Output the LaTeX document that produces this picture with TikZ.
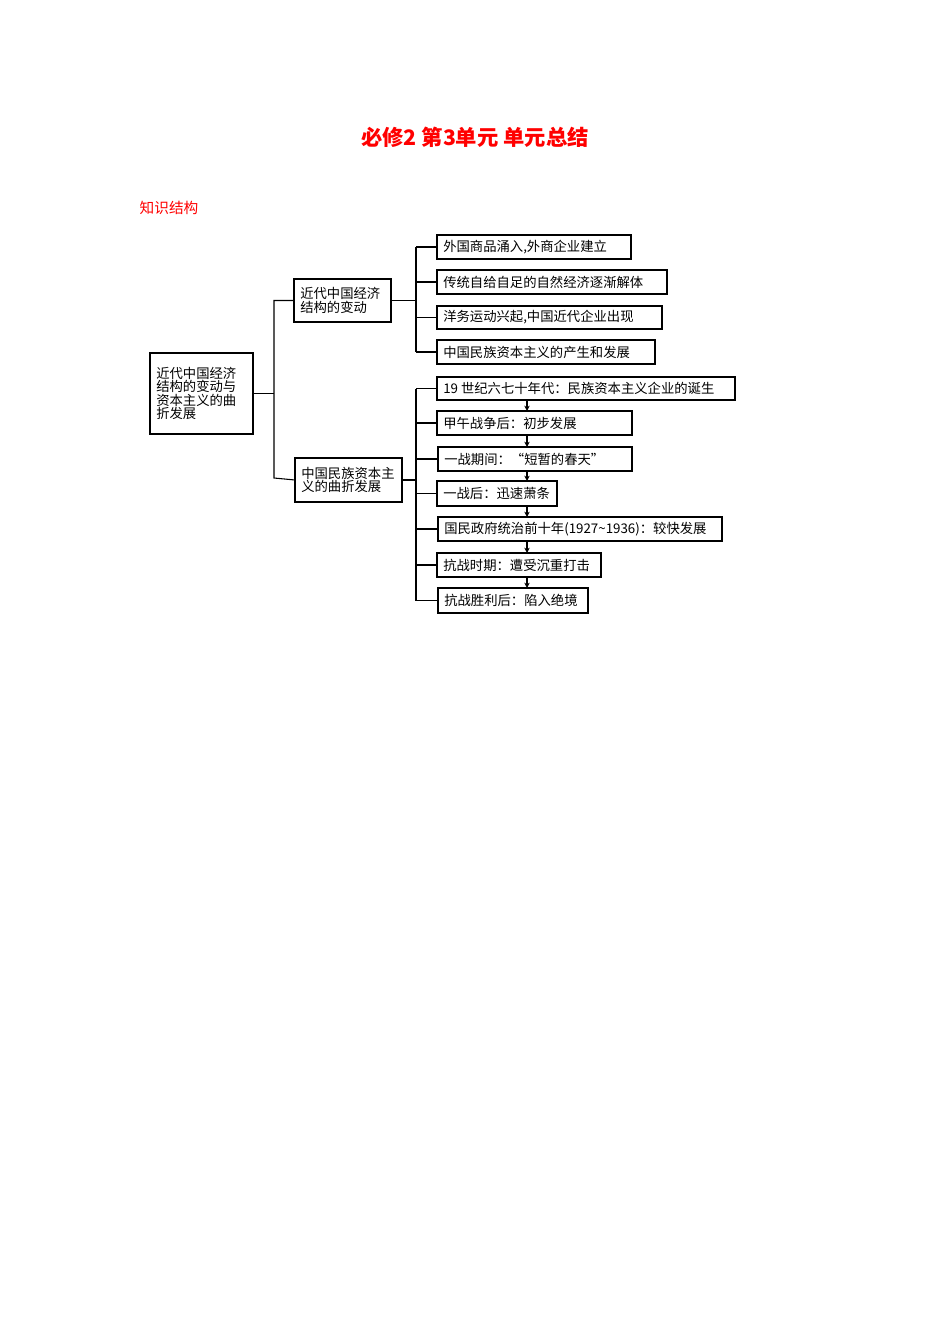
\documentclass[tikz,border=0pt]{standalone}
\usepackage{fontspec}
\usetikzlibrary{arrows.meta}
\setmainfont{Liberation Serif}
\newfontfamily\cjk{Noto Sans CJK SC}
\begin{document}
\begin{tikzpicture}[x=0.75pt,y=-0.75pt,
  bx/.style={inner sep=0pt,font=\cjk\fontsize{10}{12}\selectfont},
  ln/.style={line width=0.8pt},
  ar/.style={-{Stealth[length=4pt,width=4pt]},line width=0.8pt}]
\useasboundingbox (0,0) rectangle (950,1344);
\node[font=\cjk\bfseries\fontsize{16}{18}\selectfont,text=red] (title) at (475,137) {必修2 第3单元\ 单元总结};
\node[font=\cjk\fontsize{11}{13}\selectfont,text=red,anchor=west] (sub) at (135,208) {知识结构};
\newcommand\bxat[6]{\draw[line width=0.8pt] (#2,#3) rectangle (#4,#5);
  \node[bx,anchor=west,align=left] (#1) at (#2+6,{(#3+#5)/2}) {#6};
  \coordinate (#1w) at (#2,{(#3+#5)/2}); \coordinate (#1e) at (#4,{(#3+#5)/2});
  \coordinate (#1n) at (527,#3); \coordinate (#1s) at (527,#5);}
\bxat{root}{150}{353}{253}{434}{近代中国经济\\[-2pt]结构的变动与\\[-2pt]资本主义的曲\\[-2pt]折发展}
\bxat{ma}{294}{279}{391}{322}{近代中国经济\\[-2pt]结构的变动}
\bxat{mb}{295}{458}{402}{502}{中国民族资本主\\[-2pt]义的曲折发展}
\bxat{a1}{437}{235}{631}{259}{外国商品涌入,外商企业建立}
\bxat{a2}{437}{270}{667}{294}{传统自给自足的自然经济逐渐解体}
\bxat{a3}{437}{306}{662}{329}{洋务运动兴起,中国近代企业出现}
\bxat{a4}{437}{340}{655}{364}{中国民族资本主义的产生和发展}
\bxat{b1}{437}{377}{735}{400}{19 世纪六七十年代：民族资本主义企业的诞生}
\bxat{b2}{437}{411}{632}{435}{甲午战争后：初步发展}
\bxat{b3}{438}{447}{632}{471}{一战期间：“短暂的春天”}
\bxat{b4}{437}{481}{557}{506}{一战后：迅速萧条}
\bxat{b5}{438}{517}{722}{541}{国民政府统治前十年(1927\textasciitilde1936)：较快发展}
\bxat{b6}{437}{553}{601}{577}{抗战时期：遭受沉重打击}
\bxat{b7}{438}{588}{588}{613}{抗战胜利后：陷入绝境}
\coordinate (r1) at (274,300); \coordinate (r2) at (274,478);
\draw[ln] (roote) -- (roote -| r1);
\draw[ln] (maw) -| (r1) -- (r2) -- (mbw);
\draw[ln] (mae) -- (mae -| 416,0);
\draw[ln] (a1w -| 416,0) -- (a4w -| 416,0);
\foreach \i in {1,2,3,4} \draw[ln] (a\i w -| 416,0) -- (a\i w);
\draw[ln] (mbe) -- (mbe -| 416,0);
\draw[ln] (b1w -| 416,0) -- (b7w -| 416,0);
\foreach \i in {1,...,7} \draw[ln] (b\i w -| 416,0) -- (b\i w);
\draw[ar] (b1s) -- (b2n); \draw[ar] (b2s) -- (b3n); \draw[ar] (b3s) -- (b4n);
\draw[ar] (b4s) -- (b5n); \draw[ar] (b5s) -- (b6n); \draw[ar] (b6s) -- (b7n);
\end{tikzpicture}
\end{document}
